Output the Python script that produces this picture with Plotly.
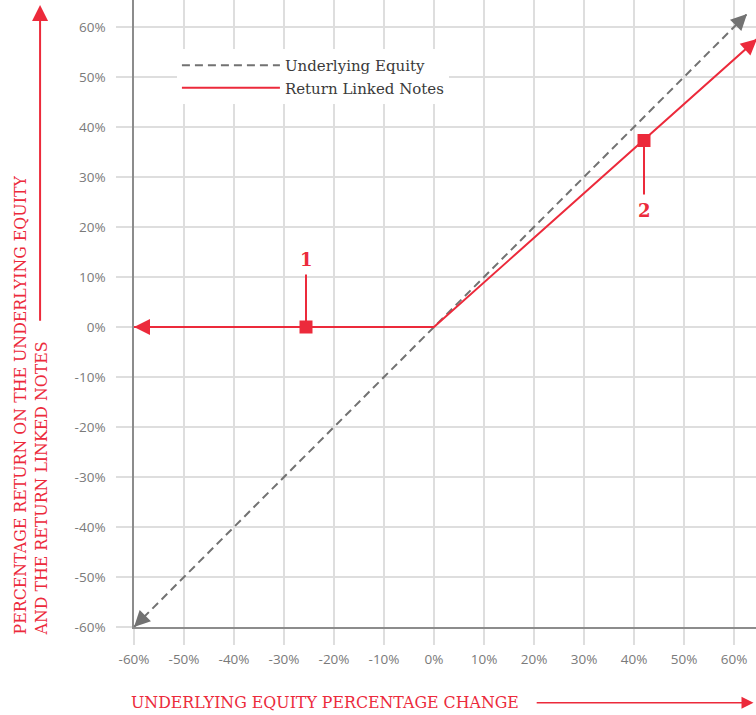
import plotly.graph_objects as go

# ---- data (percent) ----
equity_x = [-60, 62.6]
equity_y = [-60, 62.6]
notes_x = [-60, 0, 64.6]
notes_y = [0, 0, 57.6]
callout_x = [-25.6, 42.0]
callout_y = [0, 37.3]
callout_end_y = [10.5, 26.5]
callout_label_y = [13.6, 23.4]
callout_labels = ["1", "2"]
tick_vals = [-60, -50, -40, -30, -20, -10, 0, 10, 20, 30, 40, 50, 60]
tick_text = [f"{v}%" for v in tick_vals]

RED = "#ec2a3b"
GRAY = "#727272"
GRID = "#dedede"
SERIF = "DejaVu Serif"

fig = go.Figure()

fig.add_trace(go.Scatter(x=equity_x, y=equity_y, mode="lines", name="Underlying Equity",
                         line=dict(color=GRAY, width=2, dash="8px,5px")))
fig.add_trace(go.Scatter(x=notes_x, y=notes_y, mode="lines", name="Return Linked Notes",
                         line=dict(color=RED, width=2)))

for cx, cy, ey, ly, lab in zip(callout_x, callout_y, callout_end_y, callout_label_y, callout_labels):
    fig.add_trace(go.Scatter(x=[cx, cx], y=[cy, ey], mode="lines", showlegend=False,
                             line=dict(color=RED, width=2)))
    fig.add_trace(go.Scatter(x=[cx], y=[cy], mode="markers", showlegend=False,
                             marker=dict(symbol="square", size=13, color=RED)))
    fig.add_annotation(x=cx, y=ly, text=f"<b>{lab}</b>", showarrow=False,
                       font=dict(family=SERIF, size=18, color=RED))

def arrow_head(xs, ys, idx_tip, idx_prev, color):
    tx, ty = xs[idx_tip], ys[idx_tip]
    px, py = xs[idx_prev], ys[idx_prev]
    dx, dy = tx - px, ty - py
    n = (dx * dx + dy * dy) ** 0.5
    fig.add_annotation(x=tx, y=ty, ax=tx - 3 * dx / n, ay=ty - 3 * dy / n,
                       xref="x", yref="y", axref="x", ayref="y", text="",
                       showarrow=True, arrowhead=2, arrowsize=1.6, arrowwidth=2,
                       arrowcolor=color, standoff=0)

arrow_head(equity_x, equity_y, 0, 1, GRAY)
arrow_head(equity_x, equity_y, -1, -2, GRAY)
arrow_head(notes_x, notes_y, 0, 1, RED)
arrow_head(notes_x, notes_y, -1, -2, RED)

# axis titles with arrows
fig.add_annotation(xref="paper", yref="paper", x=-0.165, y=0.354, xanchor="center", yanchor="middle",
                   text="PERCENTAGE RETURN ON THE UNDERLYING EQUITY<br>AND THE RETURN LINKED NOTES",
                   textangle=-90, align="left", showarrow=False,
                   font=dict(family=SERIF, size=15.8, color=RED))
fig.add_annotation(xref="x domain", yref="y domain", x=-0.151, y=0.992, ax=-0.151, ay=0.486,
                   axref="x domain", ayref="y domain", text="", showarrow=True,
                   arrowhead=2, arrowsize=1.6, arrowwidth=2, arrowcolor=RED, standoff=0)
fig.add_annotation(xref="paper", yref="paper", x=0.307, y=-0.121, xanchor="center", yanchor="middle",
                   text="UNDERLYING EQUITY PERCENTAGE CHANGE", showarrow=False,
                   font=dict(family=SERIF, size=15.8, color=RED))
fig.add_annotation(xref="x domain", yref="y domain", x=0.996, y=-0.121, ax=0.645, ay=-0.121,
                   axref="x domain", ayref="y domain", text="", showarrow=True,
                   arrowhead=2, arrowsize=1.6, arrowwidth=1.5, arrowcolor=RED, standoff=0)

axis_common = dict(tickvals=tick_vals, ticktext=tick_text, showgrid=True, gridcolor=GRID,
                   gridwidth=1.5, zeroline=False, ticks="outside", ticklen=16, tickcolor=GRID,
                   tickwidth=1.5, showline=True, linecolor="#8c8c8c", linewidth=1.5,
                   tickfont=dict(family="Open Sans", size=13.5, color="#7a7a7a"))

fig.update_xaxes(range=[-60, 64.4], ticklabelstandoff=3, **axis_common)
fig.update_yaxes(range=[-60, 65.4], ticklabelstandoff=8, **axis_common)

fig.update_layout(
    width=756, height=715,
    margin=dict(l=134, r=0, t=0, b=88),
    plot_bgcolor="white", paper_bgcolor="white",
    legend=dict(x=0.069, y=0.922, xanchor="left", yanchor="top", bgcolor="white",
                font=dict(family=SERIF, size=15, color="#3a3a3a"), itemwidth=98,
                tracegroupgap=2),
)

fig.write_html("out.html", config={"displayModeBar": False},
               post_script="document.body.style.margin='0';document.body.style.overflow='hidden';")
